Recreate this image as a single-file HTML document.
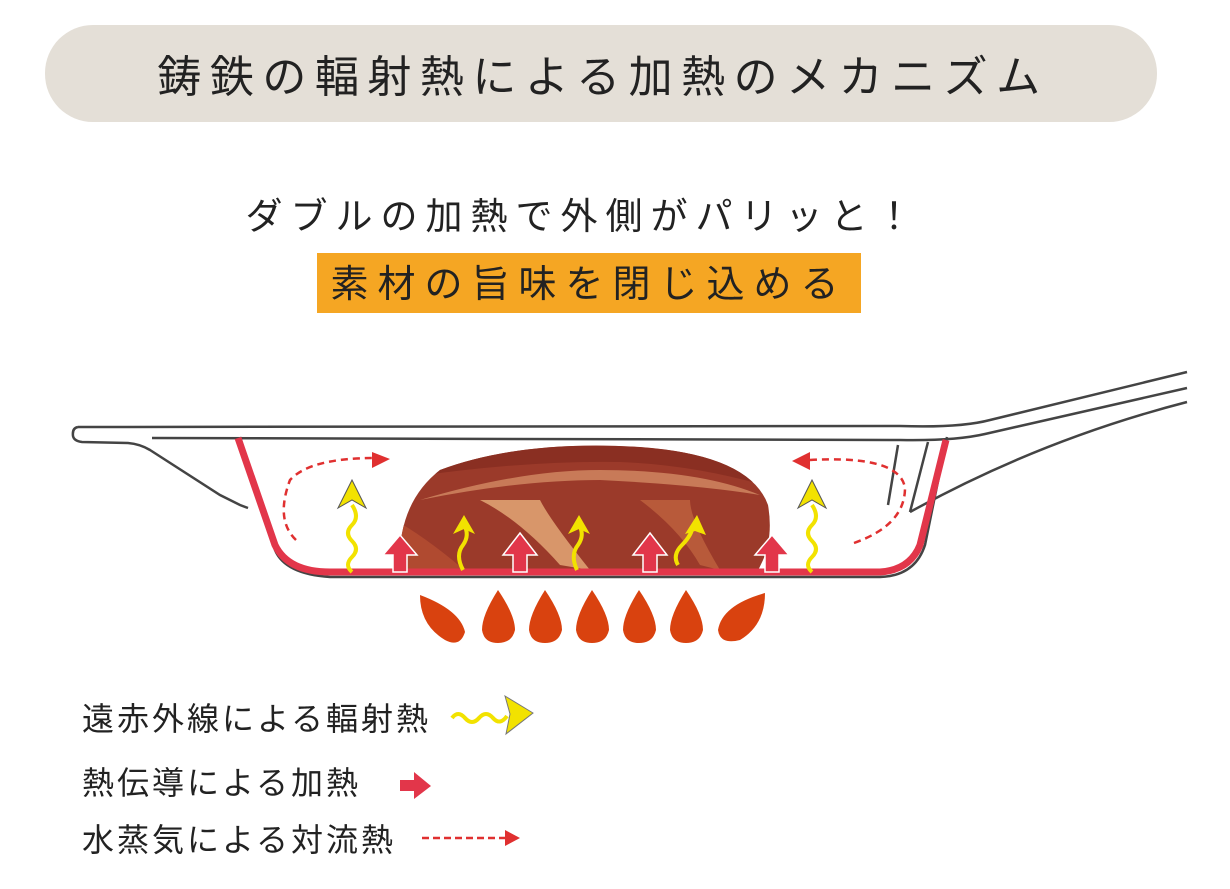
<!DOCTYPE html>
<html><head><meta charset="utf-8"><style>
body{margin:0;background:#fff;width:1230px;height:884px;overflow:hidden;font-family:"Liberation Sans","Noto Sans CJK JP",sans-serif;}
</style></head><body>
<svg width="1230" height="884" viewBox="0 0 1230 884" xmlns="http://www.w3.org/2000/svg" font-family="Liberation Sans, Noto Sans CJK JP, sans-serif">
<defs><clipPath id="m"><path d="M400,575 Q395,505 440,470 Q520,440 640,447 Q750,455 768,505 Q775,545 755,575 Z"/></clipPath></defs>
<rect x="45" y="25" width="1112" height="97" rx="48" fill="#e4dfd7"/>
<text x="603" y="92" font-size="44" text-anchor="middle" fill="#222" letter-spacing="8.5">鋳鉄の輻射熱による加熱のメカニズム</text>
<text x="583" y="229" font-size="37" text-anchor="middle" fill="#222" letter-spacing="8">ダブルの加熱で外側がパリッと！</text>
<rect x="317" y="253" width="544" height="60" fill="#f5a623"/>
<text x="589" y="297" font-size="38" text-anchor="middle" fill="#222" letter-spacing="9">素材の旨味を閉じ込める</text>

<g fill="none" stroke="#444" stroke-width="2.5">
<path d="M78,427 Q72,428 73,436 Q74,441 82,442 L128,443 Q140,444 150,450 L220,495 L240,505 L248,508"/>
<path d="M78,427 L900,426 Q960,428 990,420 L1187,372"/>
<path d="M152,438 L900,440 Q955,441 985,434 L1187,388"/>
<path d="M240,437 L275,550 Q285,574 330,577 L880,577 Q915,576 925,545 L947,437"/>
<path d="M1187,402 Q1040,440 910,512"/>
<path d="M898,445 L888,505 M928,442 L910,512"/>
</g>
<path d="M400,575 Q395,505 440,470 Q520,440 640,447 Q750,455 768,505 Q775,545 755,575 Z" fill="#9b3a2a"/>
<g clip-path="url(#m)">
<path d="M390,460 Q520,440 640,447 Q740,455 780,490 Q700,465 620,462 Q520,460 390,480Z" fill="#8a2f22"/>
<path d="M420,500 Q520,470 600,470 Q700,470 760,495 Q700,485 600,480 Q520,480 420,500Z" fill="#c87a58"/>
<path d="M480,500 Q520,520 560,565 L590,570 Q550,520 540,500 Z" fill="#d8966a"/>
<path d="M640,500 Q680,530 700,565 L720,570 Q690,520 690,500 Z" fill="#b85a3a"/>
<path d="M395,520 Q430,540 470,575 L400,575Z" fill="#b04a30"/>
</g>
<path d="M238,438 L275,545 Q288,572 330,572 L880,572 Q910,570 920,545 L946,440" fill="none" stroke="#e2364a" stroke-width="7"/>
<g fill="#e2364a" stroke="#fff" stroke-width="1.5">
<path d="M393,572 V555 H383 L400,535 L417,555 H407 V572Z"/>
<path d="M513,572 V555 H503 L520,533 L537,555 H527 V572Z"/>
<path d="M643,572 V555 H633 L650,533 L667,555 H657 V572Z"/>
<path d="M765,572 V555 H755 L772,535 L789,555 H779 V572Z"/>
</g>
<g fill="none" stroke="#f2e200" stroke-width="4">
<path d="M352,572 Q344,565 352,557 Q360,549 352,541 Q344,533 352,525 Q360,517 352,505"/>
<path d="M812,572 Q804,565 812,557 Q820,549 812,541 Q804,533 812,525 Q820,517 812,505"/>
<path d="M463,570 Q455,555 463,545 Q470,535 464,525"/>
<path d="M577,570 Q570,555 578,545 Q585,535 579,525"/>
<path d="M678,565 Q672,555 682,545 Q692,535 693,525"/>
</g>
<g fill="#f2e200" stroke="#555" stroke-width="1">
<path d="M352,480 L366,508 L352,500 L338,508Z"/>
<path d="M812,480 L826,508 L812,500 L798,508Z"/>
</g>
<g fill="#f2e200">
<path d="M464,515 L475,534 L464,529 L453,534Z"/>
<path d="M579,515 L590,534 L579,529 L568,534Z"/>
<path d="M697,515 L706,535 L695,531 L685,534Z"/>
</g>
<g fill="none" stroke="#e03030" stroke-width="2.5" stroke-dasharray="7,5">
<path d="M296,540 Q275,520 290,480 Q310,458 375,458"/>
<path d="M854,543 Q905,525 905,488 Q900,455 810,460"/>
</g>
<path d="M372,452 L390,459 L372,468Z" fill="#e03030"/>
<path d="M810,452 L792,461 L810,470Z" fill="#e03030"/>
<g fill="#d9420f">
<path d="M420,595 Q460,610 465,632 Q460,648 445,640 Q420,625 420,595Z"/>
<path d="M498,590 Q515,615 515,630 Q512,643 498,643 Q484,643 482,630 Q482,615 498,590Z"/>
<path d="M545,590 Q562,615 562,630 Q559,643 545,643 Q531,643 529,630 Q529,615 545,590Z"/>
<path d="M592,590 Q609,615 609,630 Q606,643 592,643 Q578,643 576,630 Q576,615 592,590Z"/>
<path d="M639,590 Q656,615 656,630 Q653,643 639,643 Q625,643 623,630 Q623,615 639,590Z"/>
<path d="M686,590 Q703,615 703,630 Q700,643 686,643 Q672,643 670,630 Q670,615 686,590Z"/>
<path d="M765,593 Q765,625 740,640 Q720,645 718,630 Q722,605 765,593Z"/>
</g>
<g font-size="32" fill="#222" letter-spacing="3">
<text x="82" y="730">遠赤外線による輻射熱</text>
<text x="82" y="794">熱伝導による加熱</text>
<text x="82" y="851">水蒸気による対流熱</text>
</g>
<path d="M452,718 Q458,710 465,718 Q472,726 479,718 Q486,710 493,718 Q500,726 507,716" fill="none" stroke="#f2e200" stroke-width="4"/>
<path d="M505,696 L533,713 L506,734 L510,714Z" fill="#f2e200" stroke="#777" stroke-width="1"/>
<path d="M400,780 H414 V772 L431,786 L414,799 V791 H400Z" fill="#e2364a"/>
<path d="M422,838 H508" stroke="#e03030" stroke-width="2.5" stroke-dasharray="7,4"/>
<path d="M505,830 L520,838 L505,846Z" fill="#e03030"/>
</svg>
</body></html>
